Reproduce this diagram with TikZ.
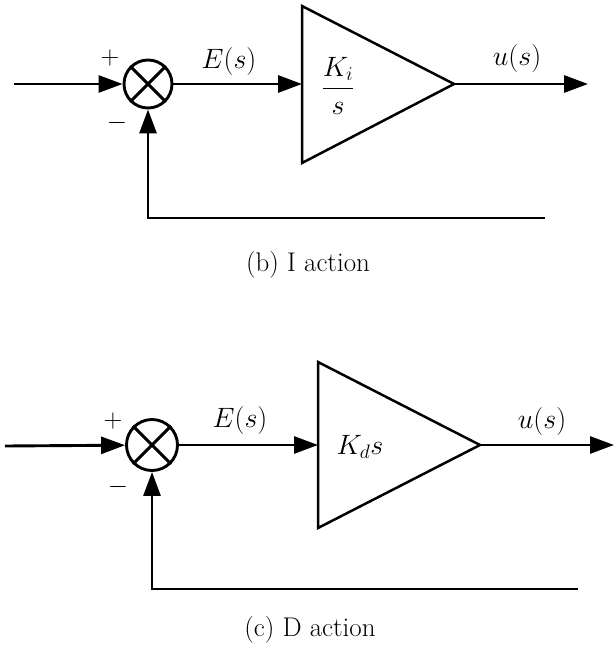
\documentclass[tikz,border=0pt]{standalone}
\usepackage{amsmath}
\usepackage{fix-cm}
\usetikzlibrary{arrows.meta}
\begin{document}
\begin{tikzpicture}[x=1pt,y=-1pt,line width=2.9pt,
  sig/.style={-{Triangle[length=24pt,width=17pt]}},
  sumnode/.style={circle,draw,inner sep=0pt},
  lbl/.style={inner sep=0pt,font=\fontsize{28}{33}\selectfont},
  sgn/.style={inner sep=0pt,font=\fontsize{26}{30}\selectfont},
  captext/.style={inner sep=0pt,font=\fontsize{27}{32}\selectfont}]
\useasboundingbox (0,0) rectangle (615,650);
% ---------- (b) I action ----------
\coordinate (in1) at (14,84);
\node[sumnode,minimum size=48pt] (s1) at (148,84) {};
\draw (s1.45)--(s1.225) (s1.135)--(s1.315);
\coordinate (t1a) at (302,84);
\coordinate (t1tip) at (454,84);
\draw[line width=2.5pt,line join=miter] (302,6) -- (t1tip) -- (302,163) -- cycle;
\coordinate (out1) at (588,84);
\coordinate (fb1) at (545,218);
\draw[sig] (in1) -- (s1);
\draw[sig] (s1) -- (t1a);
\draw[sig] (t1tip) -- (out1);
\draw[sig] (fb1) -| (s1);
\node[sgn] (p1) at (110,58) {$+$};
\node[sgn] (m1) at (117,123) {$-$};
\node[lbl] (e1) at (229,62) {$E(s)$};
\node[lbl] (u1) at (517,59) {$u(s)$};
\node[lbl] (k1) at (338,86) {$\dfrac{K_i}{s}$};
\node[captext] (c1) at (308,265) {(b) I action};
% ---------- (c) D action ----------
\coordinate (in2) at (5,446);
\node[sumnode,minimum size=51pt] (s2) at (152,445) {};
\draw (s2.45)--(s2.225) (s2.135)--(s2.315);
\coordinate (t2a) at (318,445);
\coordinate (t2tip) at (480,445);
\draw[line width=2.5pt,line join=miter] (318,362) -- (t2tip) -- (318,528) -- cycle;
\coordinate (out2) at (614,445);
\coordinate (fb2) at (578,589);
\draw[sig] (in2) -- (s2);
\draw[sig] (s2) -- (t2a);
\draw[sig] (t2tip) -- (out2);
\draw[sig] (fb2) -| (s2);
\node[sgn] (p2) at (113,421) {$+$};
\node[sgn] (m2) at (118,487) {$-$};
\node[lbl] (e2) at (240,420) {$E(s)$};
\node[lbl] (u2) at (542,421) {$u(s)$};
\node[lbl] (k2) at (360,447) {$K_d s$};
\node[captext] (c2) at (310,630) {(c) D action};
\end{tikzpicture}
\end{document}
